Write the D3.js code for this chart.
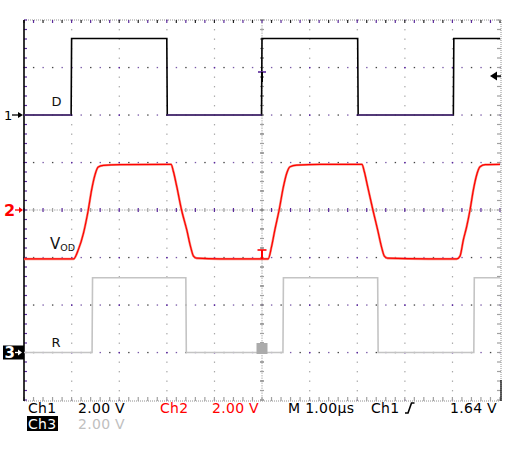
<!DOCTYPE html>
<html>
<head>
<meta charset="utf-8">
<script src="https://cdn.jsdelivr.net/npm/d3@7"></script>
<style>
  html, body { margin: 0; padding: 0; background: #fff; }
  svg { display: block; }
  text { font-family: "DejaVu Sans", sans-serif; }
</style>
</head>
<body>
<svg id="chart" width="507" height="453"></svg>
<script>
// ---------------- DATA ----------------
// time in microseconds (trigger at 0), voltages in volts
const dTime  = [-5, -4.01, -4.0, -2.0, -1.99, -0.01, 0.0, 2.01, 2.02, 4.02, 4.03, 5];
const dVolts = [0, 0, 3.22, 3.22, 0, 0, 3.22, 3.22, 0, 0, 3.22, 3.22];

const vodTime  = [-5, -3.96, -3.86, -3.75, -3.65, -3.58, -3.51, -3.44, -3.33, -2.98, -1.93,
                  -1.91, -1.86, -1.79, -1.69, -1.58, -1.50, -1.44, -1.37, -0.88, 0.13,
                  0.20, 0.27, 0.36, 0.45, 0.52, 0.59, 0.73, 1.22, 2.10,
                  2.15, 2.22, 2.33, 2.43, 2.51, 2.57, 2.64, 3.50, 4.09,
                  4.16, 4.23, 4.30, 4.37, 4.44, 4.50, 4.58, 4.69, 5];
const vodVolts = [-2.06, -2.06, -1.68, -0.97, 0, 0.84, 1.47, 1.81, 1.88, 1.91, 1.92,
                  1.92, 1.61, 0.98, 0.0, -0.84, -1.55, -1.94, -2.03, -2.06, -2.06,
                  -1.55, -0.84, 0.0, 0.98, 1.55, 1.82, 1.89, 1.92, 1.92,
                  1.61, 0.98, 0.0, -0.84, -1.55, -1.94, -2.03, -2.06, -2.06,
                  -1.94, -1.26, -0.70, 0.0, 0.84, 1.40, 1.82, 1.91, 1.92];

const rTime  = [-5, -3.57, -3.56, -1.60, -1.59, 0.44, 0.45, 2.43, 2.44, 4.45, 4.46, 5];
const rVolts = [0, 0, 3.15, 3.15, 0, 0, 3.15, 3.15, 0, 0, 3.15, 3.15];

const traceLabels = ["D", "V", "R"];
const readoutRow1 = ["Ch1", "2.00 V", "Ch2", "2.00 V", "M 1.00µs", "Ch1", "1.64 V"];
const readoutRow2 = ["Ch3", "2.00 V"];
const triggerLevel = 1.64;   // volts on Ch1
const voltsPerDiv = 2.0;
const timeDomain = [-5, 5];  // 10 divisions of 1 µs

// ---------------- LAYOUT ----------------
const svg = d3.select("#chart");
const L = 24, R = 500, T = 20, B = 400;
const x = d3.scaleLinear().domain(timeDomain).range([L, R]);
const ydiv = d3.scaleLinear().domain([4, -4]).range([T, B]);
const divW = (R - L) / 10, divH = (B - T) / 8;

const chOffset = { 1: 2, 2: 0, 3: -3 };
const yCh = ch => d3.scaleLinear()
  .domain([-voltsPerDiv, voltsPerDiv])
  .range([ydiv(chOffset[ch] - 1), ydiv(chOffset[ch] + 1)]);
const y1 = yCh(1), y2 = yCh(2), y3 = yCh(3);

svg.append("rect").attr("width", 507).attr("height", 453).attr("fill", "#fff");

// ---------------- GRATICULE ----------------
const g = svg.append("g");
const minorX = d3.range(0, 51).map(i => L + i * divW / 5);
const minorY = d3.range(0, 41).map(i => T + i * divH / 5);
// vertical major lines (gray dots)
for (let i = 1; i < 10; i++) {
  if (i === 5) continue;
  const gx = L + i * divW;
  minorY.forEach((yy, k) => {
    g.append("rect").attr("x", gx - 0.5).attr("y", yy - 0.5).attr("width", 1.2).attr("height", 1.4)
      .attr("fill", k % 5 === 0 ? "#5a2a9a" : "#a8a8a8");
  });
}
// horizontal major lines (darker dots)
for (let j = 1; j < 8; j++) {
  if (j === 4) continue;
  const gy = T + j * divH;
  minorX.forEach((xx, k) => {
    g.append("rect").attr("x", xx - 0.6).attr("y", gy - 0.6).attr("width", 1.4).attr("height", 1.3)
      .attr("fill", k % 5 === 0 ? "#5a2a9a" : (k % 2 ? "#444" : "#7a5aa8"));
  });
}
// center crosshair
const cx = L + 5 * divW, cy = T + 4 * divH;
g.append("line").attr("x1", L).attr("x2", R).attr("y1", cy).attr("y2", cy)
  .attr("stroke", "#b0b0b0").attr("stroke-width", 1).attr("stroke-dasharray", "1.5,1");
g.append("line").attr("x1", cx).attr("x2", cx).attr("y1", T).attr("y2", B)
  .attr("stroke", "#b0b0b0").attr("stroke-width", 1).attr("stroke-dasharray", "1.5,1");
minorX.forEach((xx, k) => {
  g.append("line").attr("x1", xx).attr("x2", xx).attr("y1", cy - 2).attr("y2", cy + 2)
    .attr("stroke", k % 2 ? "#a0a0a0" : "#5a2a9a").attr("stroke-width", 1.2);
});
minorY.forEach((yy, k) => {
  g.append("line").attr("x1", cx - 2).attr("x2", cx + 2).attr("y1", yy).attr("y2", yy)
    .attr("stroke", k % 2 ? "#a0a0a0" : "#707070").attr("stroke-width", 1.2);
});
// frame
g.append("line").attr("x1", L).attr("x2", R).attr("y1", T).attr("y2", T)
  .attr("stroke", "#909090").attr("stroke-width", 1).attr("stroke-dasharray", "1,1");
g.append("line").attr("x1", L).attr("x2", R).attr("y1", B + 1).attr("y2", B + 1)
  .attr("stroke", "#909090").attr("stroke-width", 1).attr("stroke-dasharray", "1,1");
g.append("line").attr("x1", R + 1).attr("x2", R + 1).attr("y1", T).attr("y2", B + 1)
  .attr("stroke", "#909090").attr("stroke-width", 1).attr("stroke-dasharray", "1,1");
minorX.forEach((xx, k) => {
  g.append("line").attr("x1", xx).attr("x2", xx).attr("y1", T).attr("y2", T + 3)
    .attr("stroke", k % 2 ? "#5a2a9a" : "#222").attr("stroke-width", 1.2);
  g.append("line").attr("x1", xx).attr("x2", xx).attr("y1", B - 3).attr("y2", B + 1)
    .attr("stroke", "#a0a0a0").attr("stroke-width", 1.2);
});
minorY.forEach((yy, k) => {
  g.append("line").attr("x1", L).attr("x2", L + 3).attr("y1", yy).attr("y2", yy)
    .attr("stroke", "#5a2a9a").attr("stroke-width", 1.2);
  g.append("line").attr("x1", R - 3).attr("x2", R + 1).attr("y1", yy).attr("y2", yy)
    .attr("stroke", "#a0a0a0").attr("stroke-width", 1.2);
});
g.append("line").attr("x1", L).attr("x2", L).attr("y1", T).attr("y2", B + 1)
  .attr("stroke", "#000").attr("stroke-width", 1.6);
g.append("line").attr("x1", R + 1).attr("x2", R + 1).attr("y1", B - 20).attr("y2", B + 1)
  .attr("stroke", "#000").attr("stroke-width", 1.2);

// ---------------- TRACES ----------------
const dPts = dTime.map((t, i) => [t, dVolts[i]]);
const vodPts = vodTime.map((t, i) => [t, vodVolts[i]]);
const rPts = rTime.map((t, i) => [t, rVolts[i]]);

const lineD = d3.line().x(d => x(d[0])).y(d => y1(d[1]));
const lineV = d3.line().x(d => x(d[0])).y(d => y2(d[1])).curve(d3.curveMonotoneX);
const lineR = d3.line().x(d => x(d[0])).y(d => y3(d[1]));

svg.append("path").datum(rPts).attr("d", lineR).attr("fill", "none")
  .attr("stroke", "#c4c4c4").attr("stroke-width", 1.6);

svg.append("path").datum(vodPts).attr("d", lineV).attr("fill", "none")
  .attr("stroke", "#f59080").attr("stroke-width", 2.4);
svg.append("path").datum(vodPts).attr("d", lineV).attr("fill", "none")
  .attr("stroke", "#ff0000").attr("stroke-width", 1.2);

svg.append("path").datum(dPts).attr("d", lineD).attr("fill", "none")
  .attr("stroke", "#000").attr("stroke-width", 1.6);
svg.append("path").datum(dPts)
  .attr("d", d3.line().defined(d => d[1] === 0).x(d => x(d[0])).y(d => y1(d[1])))
  .attr("fill", "none").attr("stroke", "#5b3a8c").attr("stroke-width", 1.6);

// ---------------- MARKERS ----------------
// channel ground markers
const m1 = svg.append("g");
m1.append("text").attr("x", 4).attr("y", y1(0) + 5).attr("font-size", 13).attr("fill", "#000").text("1");
m1.append("line").attr("x1", 12).attr("x2", 19).attr("y1", y1(0)).attr("y2", y1(0)).attr("stroke", "#000").attr("stroke-width", 1.3);
m1.append("path").attr("d", `M18,${y1(0) - 3} L23,${y1(0)} L18,${y1(0) + 3} Z`).attr("fill", "#000");

const m2 = svg.append("g");
m2.append("text").attr("x", 4).attr("y", y2(0) + 6).attr("font-size", 16).attr("font-weight", "bold").attr("fill", "#ff0000").text("2");
m2.append("line").attr("x1", 15).attr("x2", 20).attr("y1", y2(0)).attr("y2", y2(0)).attr("stroke", "#ff0000").attr("stroke-width", 1.3);
m2.append("path").attr("d", `M19,${y2(0) - 3} L23,${y2(0)} L19,${y2(0) + 3} Z`).attr("fill", "#ff0000");

const m3 = svg.append("g");
m3.append("rect").attr("x", 3).attr("y", y3(0) - 7).attr("width", 21).attr("height", 14).attr("fill", "#000");
m3.append("text").attr("x", 4.5).attr("y", y3(0) + 5.5).attr("font-size", 15).attr("font-weight", "bold").attr("fill", "#fff").text("3");
m3.append("line").attr("x1", 15).attr("x2", 19).attr("y1", y3(0)).attr("y2", y3(0)).attr("stroke", "#fff").attr("stroke-width", 1.3);
m3.append("path").attr("d", `M18,${y3(0) - 3} L22,${y3(0)} L18,${y3(0) + 3} Z`).attr("fill", "#fff");

// trigger level arrow (right)
const ty = y1(triggerLevel);
svg.append("path").attr("d", `M490,${ty} L497,${ty - 4.5} L497,${ty + 4.5} Z`).attr("fill", "#000");
svg.append("line").attr("x1", 495).attr("x2", 501).attr("y1", ty).attr("y2", ty).attr("stroke", "#000").attr("stroke-width", 1.5);

// trigger position "T" markers
svg.append("line").attr("x1", cx - 4).attr("x2", cx + 4).attr("y1", 72).attr("y2", 72).attr("stroke", "#5a2a9a").attr("stroke-width", 1.6);
svg.append("line").attr("x1", cx).attr("x2", cx).attr("y1", 72).attr("y2", 82).attr("stroke", "#000").attr("stroke-width", 2);
svg.append("line").attr("x1", cx - 4.5).attr("x2", cx + 4.5).attr("y1", 250).attr("y2", 250).attr("stroke", "#ff0000").attr("stroke-width", 1.6);
svg.append("line").attr("x1", cx).attr("x2", cx).attr("y1", 250).attr("y2", 259).attr("stroke", "#ff0000").attr("stroke-width", 2);
svg.append("rect").attr("x", cx - 5.5).attr("y", 343).attr("width", 11).attr("height", 11).attr("fill", "#ababab");

// ---------------- TRACE LABELS ----------------
svg.append("text").attr("x", 51.5).attr("y", 106).attr("font-size", 13).attr("fill", "#111").text(traceLabels[0]);
const vt = svg.append("text").attr("x", 50).attr("y", 249).attr("font-size", 15).attr("fill", "#111");
vt.append("tspan").text(traceLabels[1]);
vt.append("tspan").attr("font-size", 9.5).attr("dy", 2).text("OD");
svg.append("text").attr("x", 51.5).attr("y", 347).attr("font-size", 13).attr("fill", "#111").text(traceLabels[2]);

// ---------------- READOUTS ----------------
const row1x = [28, 78, 160, 212, 288, 371, 450];
const row1c = ["#000", "#000", "#ff0000", "#ff0000", "#000", "#000", "#000"];
readoutRow1.forEach((s, i) => {
  svg.append("text").attr("x", row1x[i]).attr("y", 413).attr("font-size", 14)
    .attr("letter-spacing", 0.3).attr("fill", row1c[i]).text(s);
});
// trigger slope glyph
svg.append("path").attr("d", "M405,413 L408,413 L411.5,403 L414.5,403")
  .attr("fill", "none").attr("stroke", "#000").attr("stroke-width", 1.6);

svg.append("rect").attr("x", 27).attr("y", 416).attr("width", 31).attr("height", 15).attr("fill", "#000");
svg.append("text").attr("x", 28).attr("y", 429).attr("font-size", 14).attr("letter-spacing", 0.3)
  .attr("fill", "#fff").text(readoutRow2[0]);
svg.append("text").attr("x", 78).attr("y", 429).attr("font-size", 14).attr("letter-spacing", 0.3)
  .attr("fill", "#c0c0c0").text(readoutRow2[1]);
</script>
</body>
</html>
